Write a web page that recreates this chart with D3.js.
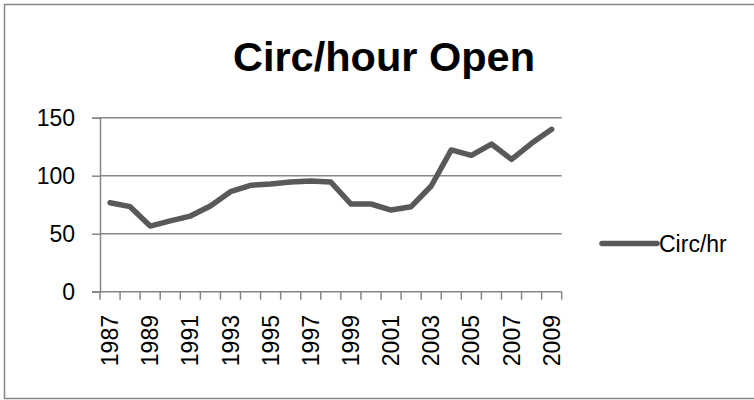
<!DOCTYPE html>
<html>
<head>
<meta charset="utf-8">
<script src="https://cdn.jsdelivr.net/npm/d3@7"></script>
<style>
  html, body { margin: 0; padding: 0; background: #fff; }
  svg { display: block; }
  text { font-family: "Liberation Sans", Arial, sans-serif; fill: #000; }
</style>
</head>
<body>
<svg id="chart" width="754" height="400"></svg>
<script>
// Circulation per open hour, by year
const years = ["1987","1988","1989","1990","1991","1992","1993","1994","1995","1996","1997","1998",
               "1999","2000","2001","2002","2003","2004","2005","2006","2007","2008","2009"];
const circPerHour = [76.7, 73.3, 56.6, 61, 65.2, 73.9, 86.2, 91.7, 92.8, 94.5, 95.5, 94.5,
                     75.6, 75.6, 70.4, 73.3, 91.1, 122.2, 117.6, 127.3, 114.1, 127.9, 140];
const yTicks = [0, 50, 100, 150];
const xLabelYears = years.filter((d, i) => i % 2 === 0);
const chartTitle = "Circ/hour Open";
const seriesName = "Circ/hr";

const svg = d3.select("#chart");
const gray = "#868686";
const lineColor = "#595959";

// outer frame
svg.append("rect")
  .attr("x", 4.5).attr("y", 4.5)
  .attr("width", 752).attr("height", 394)
  .attr("fill", "none").attr("stroke", gray).attr("stroke-width", 1.5);

const plot = { left: 100, right: 561.7, top: 117.7, bottom: 291.7 };

const x = d3.scaleBand().domain(years).range([plot.left, plot.right]).padding(0);
const y = d3.scaleLinear().domain([0, 150]).range([plot.bottom, plot.top]);

// horizontal gridlines
svg.append("g").selectAll("line")
  .data(yTicks.filter(t => t > 0))
  .join("line")
  .attr("x1", plot.left).attr("x2", plot.right)
  .attr("y1", d => y(d)).attr("y2", d => y(d))
  .attr("stroke", gray).attr("stroke-width", 1.5);

// y axis
const yAxis = svg.append("g")
  .attr("transform", `translate(${plot.left},0)`)
  .call(d3.axisLeft(y).tickValues(yTicks).tickSize(8).tickPadding(17));
yAxis.select(".domain").attr("stroke", gray).attr("stroke-width", 1.5);
yAxis.selectAll(".tick line").attr("stroke", gray).attr("stroke-width", 1.5);
yAxis.selectAll(".tick text")
  .style("font-family", "Liberation Sans, Arial, sans-serif")
  .style("font-size", "23px").attr("fill", "#000");

// x axis: line plus tick marks at category boundaries
const bounds = years.map(d => x(d)).concat([plot.right]);
svg.append("line")
  .attr("x1", plot.left - 8).attr("x2", plot.right)
  .attr("y1", plot.bottom).attr("y2", plot.bottom)
  .attr("stroke", gray).attr("stroke-width", 1.5);
svg.append("g").selectAll("line")
  .data(bounds)
  .join("line")
  .attr("x1", d => d).attr("x2", d => d)
  .attr("y1", plot.bottom).attr("y2", plot.bottom + 8)
  .attr("stroke", gray).attr("stroke-width", 1.5);

// rotated year labels
svg.append("g").selectAll("text")
  .data(xLabelYears)
  .join("text")
  .attr("transform", d => `translate(${x(d) + x.bandwidth() / 2},315) rotate(-90)`)
  .attr("text-anchor", "end")
  .attr("dy", "0.35em")
  .style("font-size", "23px")
  .text(d => d);

// series line
const line = d3.line()
  .x((d, i) => x(years[i]) + x.bandwidth() / 2)
  .y(d => y(d));
svg.append("path")
  .datum(circPerHour)
  .attr("d", line)
  .attr("fill", "none")
  .attr("stroke", lineColor)
  .attr("stroke-width", 5.5)
  .attr("stroke-linejoin", "round")
  .attr("stroke-linecap", "round");

// title
svg.append("text")
  .attr("x", 384).attr("y", 71)
  .attr("text-anchor", "middle")
  .style("font-size", "41.5px")
  .style("font-weight", "bold")
  .text(chartTitle);

// legend
svg.append("line")
  .attr("x1", 602).attr("x2", 657)
  .attr("y1", 243.5).attr("y2", 243.5)
  .attr("stroke", lineColor).attr("stroke-width", 5.5)
  .attr("stroke-linecap", "round");
svg.append("text")
  .attr("x", 659).attr("y", 252)
  .style("font-size", "23px")
  .text(seriesName);
</script>
</body>
</html>
